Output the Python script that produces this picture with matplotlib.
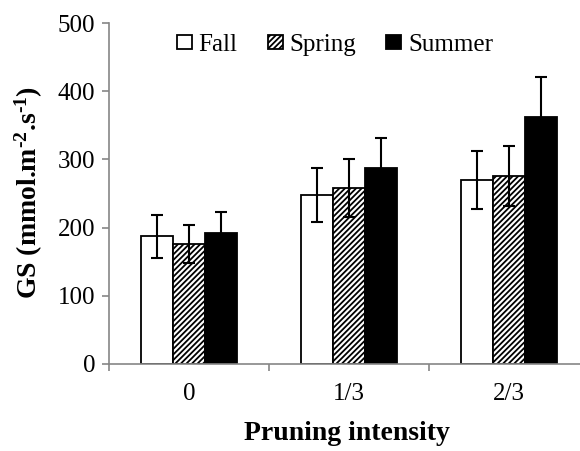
import numpy as np
import matplotlib
matplotlib.use("Agg")
import matplotlib.pyplot as plt

# Données
categories = ['0', '1/3', '2/3']
saisons = ['Fall', 'Spring', 'Summer']
fall = [187, 248, 270]
spring = [176, 258, 275]
summer = [192, 287, 362]
fall_err = [31, 40, 43]
spring_err = [28, 42, 44]
summer_err = [31, 45, 59]
yticks = [0, 100, 200, 300, 400, 500]

plt.rcParams['font.family'] = ['Liberation Serif', 'DejaVu Serif']
plt.rcParams['mathtext.default'] = 'regular'
plt.rcParams['hatch.linewidth'] = 1.3
plt.rcParams['hatch.color'] = 'black'

fig = plt.figure(figsize=(5.8, 4.51), dpi=100)
ax = fig.add_axes([109 / 580, 87 / 451, 480 / 580, 341 / 451])

x = np.arange(len(categories))
w = 0.2
styles = [
    dict(color='white', hatch=None),
    dict(color='white', hatch='//////'),
    dict(color='black', hatch=None),
]
valeurs = [fall, spring, summer]
erreurs = [fall_err, spring_err, summer_err]

for i, (nom, v, e, st) in enumerate(zip(saisons, valeurs, erreurs, styles)):
    ax.bar(x + (i - 1) * w, v, width=w, color=st['color'], hatch=st['hatch'],
           edgecolor='black', linewidth=1.3, label=nom, zorder=2)
    ax.errorbar(x + (i - 1) * w, v, yerr=e, fmt='none', ecolor='black',
                elinewidth=1.5, capsize=4, capthick=1.5, zorder=3)

ax.set_xlim(-0.5, 2.5)
ax.set_ylim(0, 500)
ax.set_yticks(yticks)
ax.set_xticks(x)
ax.set_xticklabels(categories)
ax.set_xticks([-0.5, 0.5, 1.5, 2.5], minor=True)
ax.tick_params(axis='x', which='major', length=0, pad=14, labelsize=18)
ax.tick_params(axis='x', which='minor', length=5, color='#868686', width=1.2)
ax.tick_params(axis='y', length=5, color='#868686', width=1.2, labelsize=18, pad=5)

for s in ['top', 'right']:
    ax.spines[s].set_visible(False)
for s in ['left', 'bottom']:
    ax.spines[s].set_color('#868686')
    ax.spines[s].set_linewidth(1.2)

ax.set_ylabel('GS (mmol.m$^{\u2010 2}$.s$^{\u2010 1}$)', fontsize=20, fontweight='bold')
ax.yaxis.set_label_coords(-(109 - 29) / 480, (364 - 192) / 341)
ax.set_xlabel('Pruning intensity', fontsize=20, fontweight='bold')
ax.xaxis.set_label_coords((347 - 109) / 480, -(434 - 364) / 341)
ax.xaxis.label.set_va('center')
ax.yaxis.label.set_va('center')

leg = ax.legend(loc='center', bbox_to_anchor=((335 - 109) / 480, (364 - 45) / 341), ncol=3,
                frameon=False, fontsize=18, handlelength=0.6, handleheight=0.5,
                handletextpad=0.28, columnspacing=1.2, borderpad=0)

fig.savefig('out.png', dpi=100)
